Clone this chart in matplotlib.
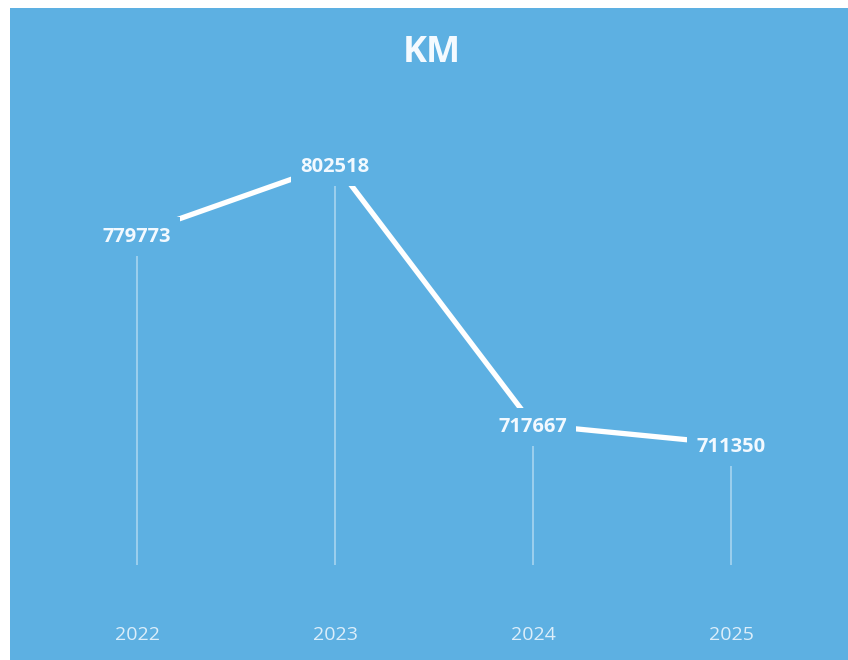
import matplotlib
matplotlib.use('Agg')
import matplotlib.pyplot as plt
from matplotlib.patches import Rectangle
from matplotlib.transforms import ScaledTranslation

# data
YEARS = ["2022", "2023", "2024", "2025"]
KM = [779773, 802518, 717667, 711350]

BG = "#5DB0E2"
W, H = 8.48, 6.6

fig = plt.figure(figsize=(W, H), dpi=100, facecolor='white')
# blue chart area (scanned sheet leaves a thin white margin top/left)
fig.patches.append(Rectangle((10/848, 0), 1 - 10/848, 1 - 8/660,
                             transform=fig.transFigure, fc=BG, ec='none', zorder=-10))

ax = fig.add_axes([38/848, 95/660, 792/848, 465/660])
ax.set_facecolor('none')
x = list(range(len(YEARS)))
ax.set_xlim(-0.5, len(YEARS) - 0.5)
ax.set_ylim(672000, 823300)

# drop lines
ax.vlines(x, ax.get_ylim()[0], KM, color='white', lw=1.3, alpha=0.42, zorder=1)
# main line
ax.plot(x, KM, color='white', lw=3.8, solid_capstyle='butt', zorder=2)

# data labels with background boxes (hide line ends like the original)
shift = ax.transData + ScaledTranslation(0, -2/72, fig.dpi_scale_trans)
for xi, v in zip(x, KM):
    ax.text(xi, v, f"{v}", ha='center', va='center', fontsize=14.5,
            fontweight='bold', color='#F2F9FF', family='Open Sans', zorder=5,
            bbox=dict(boxstyle='square,pad=0.45', fc=BG, ec='none'),
            transform=shift)

for s in ax.spines.values():
    s.set_visible(False)
ax.set_yticks([])
ax.set_xticks(x)
ax.set_xticklabels(YEARS, fontsize=14, color='#DCEEFA', family='Open Sans')
ax.tick_params(axis='x', length=0, pad=44)

fig.text(432/848, 1 - 53/660, "KM", ha='center', va='center', fontsize=26,
         fontweight='bold', color='#F4FAFF', family='Open Sans')

fig.savefig("out.png", dpi=100, facecolor='white')
plt.close(fig)
